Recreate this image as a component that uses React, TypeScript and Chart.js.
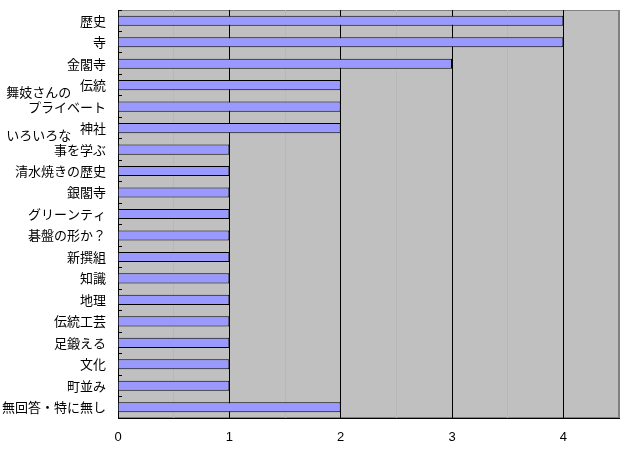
import React, { useEffect, useRef } from "react";
import Chart from "chart.js/auto";

// category labels (a few wrap onto two lines, like the original sheet)
const categories: (string | string[])[] = [
  "歴史",
  "寺",
  "金閣寺",
  "伝統",
  ["舞妓さんの\u3000\u3000   ", "プライベート", ""],
  "神社",
  ["いろいろな\u3000\u3000   ", "事を学ぶ", ""],
  "清水焼きの歴史",
  "銀閣寺",
  "グリーンティ",
  "碁盤の形か？",
  "新撰組",
  "知識",
  "地理",
  "伝統工芸",
  "足鍛える",
  "文化",
  "町並み",
  "無回答・特に無し",
];

const counts = [4, 4, 3, 2, 2, 2, 1, 1, 1, 1, 1, 1, 1, 1, 1, 1, 1, 1, 2];

const xTicks = [0, 1, 2, 3, 4];

const plotBackground = {
  id: "plotBackground",
  beforeDraw(chart: Chart) {
    const { ctx, chartArea } = chart;
    ctx.save();
    ctx.fillStyle = "#c0c0c0";
    ctx.fillRect(
      chartArea.left,
      chartArea.top,
      chartArea.right - chartArea.left,
      chartArea.bottom - chartArea.top
    );
    ctx.strokeStyle = "#808080";
    ctx.lineWidth = 1;
    ctx.strokeRect(
      chartArea.left + 0.5,
      chartArea.top + 0.5,
      chartArea.right - chartArea.left - 1,
      chartArea.bottom - chartArea.top - 1
    );
    ctx.restore();
  },
};

const App = () => {
  const chartRef = useRef<HTMLCanvasElement | null>(null);

  useEffect(() => {
    document.body.style.margin = "0";
    const ctx = chartRef.current?.getContext("2d");
    if (!ctx) return;

    const myChart = new Chart(ctx, {
      type: "bar",
      data: {
        labels: categories,
        datasets: [
          {
            data: counts,
            backgroundColor: "#9999ff",
            borderColor: "#000000",
            borderWidth: 1,
            barPercentage: 0.47,
            categoryPercentage: 1,
          },
        ],
      },
      options: {
        indexAxis: "y",
        responsive: false,
        animation: false,
        devicePixelRatio: 1,
        layout: { padding: { top: 10, right: 12, left: 0, bottom: 0 } },
        plugins: {
          legend: { display: false },
          tooltip: { enabled: false },
        },
        scales: {
          x: {
            min: 0,
            max: 4.5,
            afterFit: (axis: any) => {
              axis.height = 34;
            },
            afterBuildTicks: (axis: any) => {
              const t: { value: number }[] = [];
              for (let v = 0; v <= 4.5; v += 0.5) t.push({ value: v });
              axis.ticks = t;
            },
            ticks: {
              autoSkip: false,
              padding: 12,
              color: "#000",
              font: { family: '"Liberation Sans Narrow", "Liberation Sans"', size: 13 },
              callback: (v: any) => (xTicks.includes(Number(v)) ? String(v) : ""),
            },
            grid: {
              drawTicks: false,
              lineWidth: 1,
              color: (c: any) => {
                const v = c.tick?.value;
                if (v === 4.5) return "#808080";
                if (Number.isInteger(v)) return "#000000";
                return "#b8b8b8";
              },
            },
            border: { color: "#000", width: 1 },
          },
          y: {
            afterFit: (axis: any) => {
              axis.width = 118;
              axis.paddingTop = 0;
              axis.paddingBottom = 0;
            },
            ticks: {
              autoSkip: false,
              padding: 16,
              color: "#000",
              font: { family: '"Noto Sans CJK JP"', size: 13, lineHeight: 1.15 },
            },
            grid: {
              drawOnChartArea: false,
              drawTicks: true,
              tickLength: -4,
              color: "#000",
            },
            border: { color: "#000", width: 1 },
          },
        },
      },
      plugins: [plotBackground],
    });

    return () => {
      myChart.destroy();
    };
  }, []);

  return <canvas ref={chartRef} width={631} height={452}></canvas>;
};

export default App;
